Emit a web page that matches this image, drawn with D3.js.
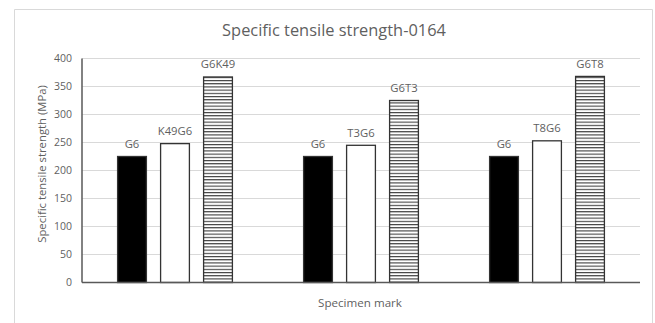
<!DOCTYPE html>
<html>
<head>
<meta charset="utf-8">
<script src="https://cdn.jsdelivr.net/npm/d3@7/dist/d3.min.js"></script>
<style>
  html, body { margin: 0; padding: 0; background: #fff; }
  svg { display: block; }
  text { font-family: "Open Sans", "Liberation Sans", sans-serif; fill: #5f5f5f; }
</style>
</head>
<body>
<svg id="chart" width="655" height="323"></svg>
<script>
// Three test groups, each with a reference G6 bar and two hybrid layups
const groups = ["0164-K49", "0164-T3", "0164-T8"];
const series = ["base", "outer", "inner"];
const baseLabels  = ["G6", "G6", "G6"];
const outerLabels = ["K49G6", "T3G6", "T8G6"];
const innerLabels = ["G6K49", "G6T3", "G6T8"];
const baseValues  = [225, 225, 225];
const outerValues = [248, 245, 253];
const innerValues = [367, 325, 368];
const yTicks = [0, 50, 100, 150, 200, 250, 300, 350, 400];

const rows = groups.map((g, i) => ({
  group: g,
  bars: [
    { key: "base",  label: baseLabels[i],  value: baseValues[i] },
    { key: "outer", label: outerLabels[i], value: outerValues[i] },
    { key: "inner", label: innerLabels[i], value: innerValues[i] }
  ]
}));

const svg = d3.select("#chart");
const plot = { left: 82, right: 640, top: 58.5, bottom: 282.5 };

// Chart frame (its lower edge runs past the bottom of the canvas)
svg.append("path")
  .attr("d", "M14.5,323 V9.5 H652.5 V323")
  .attr("fill", "none").attr("stroke", "#d9d9d9").attr("stroke-width", 1);

// Horizontal stripe fill for the third series
const defs = svg.append("defs");
const pat = defs.append("pattern")
  .attr("id", "hstripe").attr("patternUnits", "userSpaceOnUse")
  .attr("width", 6).attr("height", 3.2);
pat.append("rect").attr("width", 6).attr("height", 3.2).attr("fill", "#fff");
pat.append("rect").attr("y", 0).attr("width", 6).attr("height", 1.1).attr("fill", "#3a3a3a");

const x0 = d3.scaleBand().domain(groups).range([plot.left, plot.right]).padding(0);
const innerWidth = 129;
const x1 = d3.scaleBand().domain(series).range([0, innerWidth]).paddingInner(0.33).paddingOuter(0.165);
const y = d3.scaleLinear().domain([0, 400]).range([plot.bottom, plot.top]);

// Gridlines
svg.append("g")
  .selectAll("line").data(yTicks.filter(t => t > 0)).join("line")
  .attr("x1", plot.left).attr("x2", plot.right)
  .attr("y1", d => y(d)).attr("y2", d => y(d))
  .attr("stroke", "#d9d9d9").attr("stroke-width", 1);

// Y tick labels
const yAxis = d3.axisLeft(y).tickValues(yTicks).tickSize(0).tickPadding(10);
const yg = svg.append("g").attr("transform", `translate(${plot.left},0)`).call(yAxis);
yg.select(".domain").remove();
yg.selectAll("text").attr("font-size", 10.5).style("font-family", "'Open Sans', sans-serif").attr("fill", "#5f5f5f");

const fillFor = { base: "#000", outer: "#fff", inner: "url(#hstripe)" };

const g = svg.append("g").selectAll("g").data(rows).join("g")
  .attr("transform", d => `translate(${x0(d.group) + (x0.bandwidth() - innerWidth) / 2},0)`);

g.selectAll("rect").data(d => d.bars).join("rect")
  .attr("x", d => x1(d.key))
  .attr("y", d => y(d.value))
  .attr("width", x1.bandwidth())
  .attr("height", d => y(0) - y(d.value))
  .attr("fill", d => fillFor[d.key])
  .attr("stroke", "#333").attr("stroke-width", 1.3);

g.selectAll("text.lbl").data(d => d.bars).join("text")
  .attr("class", "lbl")
  .attr("x", d => x1(d.key) + x1.bandwidth() / 2)
  .attr("y", d => y(d.value) - 8.5)
  .attr("text-anchor", "middle")
  .attr("font-size", 11.3)
  .text(d => d.label);

// Axis lines
svg.append("line")
  .attr("x1", plot.left).attr("x2", plot.left)
  .attr("y1", plot.top).attr("y2", plot.bottom)
  .attr("stroke", "#595959").attr("stroke-width", 1.5);
svg.append("line")
  .attr("x1", plot.left).attr("x2", plot.right)
  .attr("y1", plot.bottom).attr("y2", plot.bottom)
  .attr("stroke", "#595959").attr("stroke-width", 1.5);

// Titles
svg.append("text")
  .attr("x", 334).attr("y", 36)
  .attr("text-anchor", "middle").attr("font-size", 16.4)
  .text("Specific tensile strength-0164");

svg.append("text")
  .attr("x", 360).attr("y", 307)
  .attr("text-anchor", "middle").attr("font-size", 11.6)
  .text("Specimen mark");

svg.append("text")
  .attr("transform", "translate(46,164) rotate(-90)")
  .attr("text-anchor", "middle").attr("font-size", 11.3)
  .text("Specific tensile strength (MPa)");
</script>
</body>
</html>
